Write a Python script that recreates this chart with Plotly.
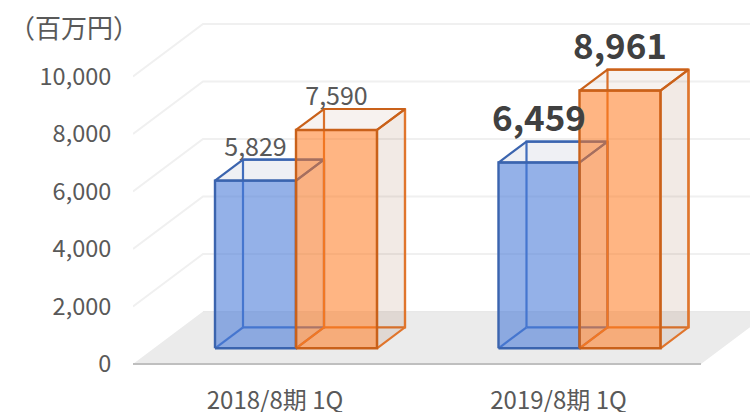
import plotly.graph_objects as go

categories = ["2018/8期 1Q", "2019/8期 1Q"]
series_a = [5829, 6459]
series_b = [7590, 8961]
y_ticks = [0, 2000, 4000, 6000, 8000, 10000]
unit_label = "（百万円）"

FONT = "Noto Sans CJK JP"
W, H = 750, 412
ML, MB = 133, 44.5
PX_X = 283.5
PX_Y = 0.0288
X0 = -(275 - ML) / PX_X
X1 = X0 + (W - ML) / PX_X
Y0 = -3 / PX_Y
Y1 = (H - 47.5) / PX_Y

DX = 70 / PX_X          # depth 0→1 in category units
DY = 52.5 / PX_Y        # depth 0→1 in value units
D_FRONT, D_BACK = 0.30, 0.70
BAR_W = 81 / PX_X


def proj(x, d, v):
    return x + d * DX, v + d * DY


fig = go.Figure()


def poly(pts, fill=None, line=None, width=0, close=True):
    xy = [proj(*p) for p in pts]
    if close:
        xy.append(xy[0])
    fig.add_trace(go.Scatter(
        x=[a for a, _ in xy], y=[b for _, b in xy], mode="lines",
        fill="toself" if fill else "none", fillcolor=fill,
        line=dict(color=line or "rgba(0,0,0,0)", width=width),
        hoverinfo="skip", showlegend=False))


# walls and floor
xl, xr = X0, X0 + (701 - ML) / PX_X
GRID = "#F0F0F0"
for t in y_ticks[1:]:
    poly([(xl, 0, t), (xl, 1, t), (xr, 1, t)], line=GRID, width=2, close=False)
poly([(xl, 0, 0), (xl, 1, 0), (xr, 1, 0), (xr, 0, 0)], fill="#EBEBEB")
poly([(xl, 1, 0), (xr, 1, 0)], line="#E6E6E6", width=1, close=False)
poly([(xl, 0, 0), (xr, 0, 0)], line="#BFBFBF", width=2.2, close=False)


def box(x, v, front_fill, side_fill, top_fill, dark, mid):
    a, b = x, x + BAR_W
    f, k = D_FRONT, D_BACK
    # hidden back edges and translucent inner faces
    poly([(a, k, 0), (b, k, 0), (b, k, v), (a, k, v)], line=mid, width=2.2)
    poly([(a, f, 0), (a, k, 0)], line=mid, width=2.2, close=False)
    poly([(b, f, 0), (b, k, 0), (b, k, v), (b, f, v)], fill=side_fill, line=mid, width=2.2)
    poly([(a, f, v), (a, k, v), (b, k, v), (b, f, v)], fill=top_fill, line=dark, width=2.2)
    poly([(a, f, 0), (b, f, 0), (b, f, v), (a, f, v)], fill=front_fill, line=dark, width=2.4)


for i in range(len(categories)):
    box(i - BAR_W, series_a[i],
        "rgba(70,120,215,0.58)", "rgba(68,114,196,0.06)", "rgba(50,70,120,0.08)",
        "#3B64AE", "#4472C4")
    box(i, series_b[i],
        "rgba(255,120,30,0.55)", "rgba(140,70,30,0.115)", "rgba(140,70,30,0.07)",
        "#C9611A", "#E0752C")

# data labels
for i in range(len(categories)):
    big = i == 1
    size = 35 if big else 25
    lift = 40 if big else 31
    col = "#404040" if big else "#595959"
    for j, s in enumerate((series_a, series_b)):
        off = (j - 0.5) * BAR_W
        x, y = proj(i + off, D_FRONT, s[i] + lift / PX_Y)
        fig.add_trace(go.Scatter(
            x=[x], y=[y], mode="text", text=[f"{s[i]:,}"], textposition="middle center",
            textfont=dict(family=FONT, size=size, color=col,
                          weight="bold" if big else "normal"),
            hoverinfo="skip", showlegend=False, cliponaxis=False))

fig.update_layout(
    width=W, height=H, autosize=False,
    margin=dict(l=ML, r=0, t=0, b=MB, pad=0, autoexpand=False),
    paper_bgcolor="white", plot_bgcolor="white",
    xaxis=dict(range=[X0, X1], tickmode="array", tickvals=[0, 1], ticktext=categories,
               automargin=False, showgrid=False, zeroline=False, showline=False,
               ticks="outside", ticklen=12, tickcolor="rgba(0,0,0,0)",
               tickfont=dict(family=FONT, size=24, color="#595959")),
    yaxis=dict(range=[Y0, Y1], tickmode="array", tickvals=y_ticks,
               automargin=False, tickformat=",d", showgrid=False, zeroline=False, showline=False,
               ticks="outside", ticklen=16, tickcolor="rgba(0,0,0,0)",
               tickfont=dict(family=FONT, size=23.5, color="#595959")),
    annotations=[dict(text=unit_label, xref="paper", yref="paper", x=-59 / (W - ML),
                      y=1 - 27 / (H - MB), xanchor="center", yanchor="middle", showarrow=False,
                      font=dict(family=FONT, size=26, color="#595959"))],
)

fig.write_html("out.html", config={"displayModeBar": False},
               post_script="document.body.style.margin='0';document.documentElement.style.overflow='hidden';")
